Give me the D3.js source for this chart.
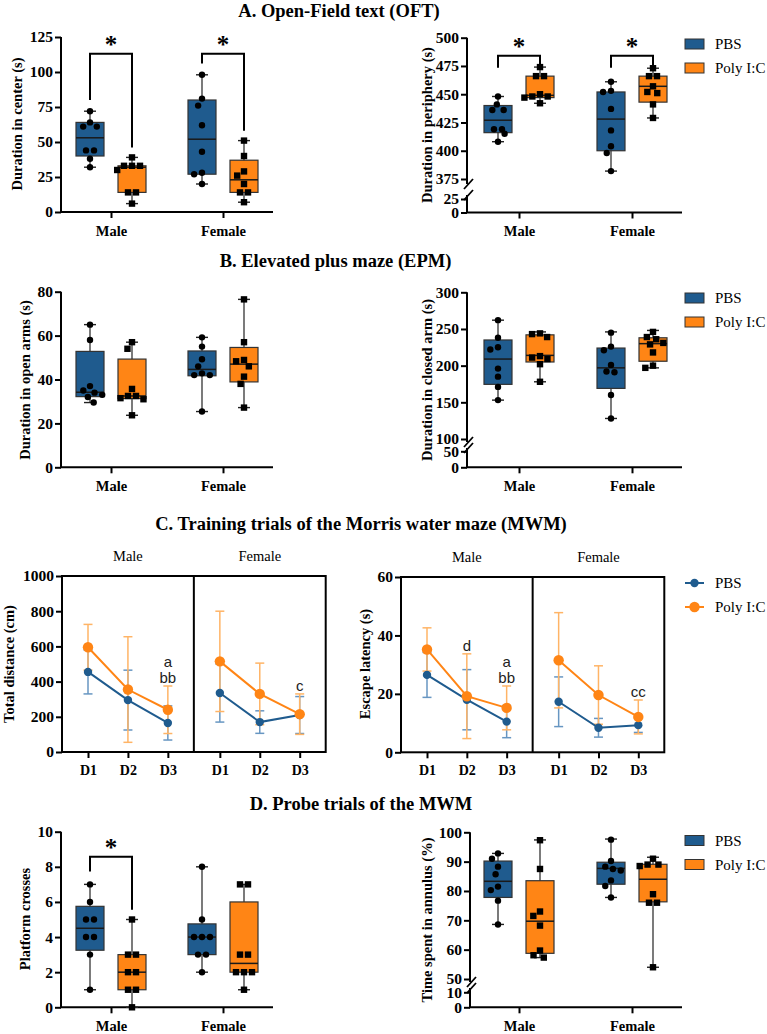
<!DOCTYPE html>
<html lang="en">
<head>
<meta charset="UTF-8">
<title>Behavioural tests: PBS vs Poly I:C</title>
<script src="https://d3js.org/d3.v7.min.js"></script>
<style>
  body { margin: 0; background: #fff; }
  svg { display: block; font-family: "Liberation Serif", "Times New Roman", serif; }
</style>
</head>
<body>
<svg id="fig" width="767" height="1034"></svg>
<script>
const sexes = ["Male", "Female"];
const groups = ["PBS", "Poly I:C"];
const days = ["D1", "D2", "D3"];

// box stats [min, q1, median, q3, max], order: Male-PBS, Male-Poly, Female-PBS, Female-Poly
const centerBox = [[32, 40, 53, 64, 72], [6, 14, 32, 33, 39], [20, 27, 52, 80, 98], [7, 14, 23, 37, 51]];
const centerPts = [[72, 64, 61, 61, 44, 44, 38, 32], [39, 33, 33, 33, 30, 14, 14, 6],
                   [98, 81, 76, 62, 43, 28, 27, 20], [51, 40, 29, 26, 20, 14, 14, 7]];
const centerSig = [{sex: "Male", top: 113, pbs: 80, poly: 46}, {sex: "Female", top: 113, pbs: 106, poly: 58}];

const periBox = [[408, 416, 427, 440, 448], [442, 447, 449, 466, 474], [382, 400, 428, 452, 461], [429, 443, 457, 466, 473]];
const periPts = [[448, 441, 436, 436, 419, 419, 415, 408], [474, 466, 466, 450, 448, 448, 447, 442],
                 [461, 453, 452, 437, 418, 404, 398, 382], [473, 466, 466, 457, 452, 451, 441, 429]];
const periSig = [{sex: "Male", top: 484, pbs: 473.5, poly: 474.5}, {sex: "Female", top: 484, pbs: 473.5, poly: 474.5}];

const openBox = [[29.5, 32.2, 34.2, 52.8, 65], [23.7, 31.3, 32.5, 49.3, 57], [25.4, 41.7, 44.6, 53, 59.2], [27.2, 38.9, 47, 54.6, 76.5]];
const openPts = [[65, 58, 37, 35, 34, 33, 32, 29.5], [57, 54, 35.7, 32.5, 32.5, 31.5, 31, 23.7],
                 [59.2, 55, 49.2, 46, 42.8, 42, 42, 25.4], [76.5, 57, 48.9, 48.3, 46, 41.3, 38, 27.2]];

const closedBox = [[153, 174.5, 209, 235, 262], [178, 205, 214, 242, 246], [128, 169, 197, 224, 246], [197, 206, 230, 238, 248]];
const closedPts = [[262, 238, 225, 222, 196, 185, 171, 153], [244, 243, 239, 213, 211, 209, 202, 178],
                   [245, 226, 221, 201, 192, 191, 160, 128], [246, 239, 236, 231, 229, 218, 200, 197]];

// MWM training: mean and SD per day, same order of series
const distMean = [[455, 295, 165], [595, 355, 240], [335, 170, 210], [515, 330, 215]];
const distSd = [[125, 170, 97], [130, 300, 135], [165, 64, 105], [285, 175, 115]];
const distNotes = [{sex: "Male", day: "D3", lines: ["a", "bb"]}, {sex: "Female", day: "D3", lines: ["c"]}];

const latMean = [[26.5, 18, 10.5], [35.2, 19.2, 15.2], [17.3, 8.4, 9.3], [31.5, 19.6, 12.1]];
const latSd = [[7.7, 10.3, 5.5], [7.4, 14.5, 7.5], [8.5, 3.2, 2.5], [16.3, 10, 5.8]];
const latNotes = [{sex: "Male", day: "D2", lines: ["d"]}, {sex: "Male", day: "D3", lines: ["a", "bb"]},
                  {sex: "Female", day: "D3", lines: ["cc"]}];

const crossBox = [[1, 3.25, 4.5, 5.75, 7], [0, 1, 2, 3, 5], [2, 3, 4, 4.75, 8], [1, 2, 2.5, 6, 7]];
const crossPts = [[7, 6, 5, 5, 4, 4, 3, 1], [5, 3, 3, 2, 2, 1, 1, 0], [8, 5, 4, 4, 4, 3, 3, 2], [7, 7, 3, 3, 2, 2, 2, 1]];
const crossSig = [{sex: "Male", top: 8.58, pbs: 7.73, poly: 5.55}];

const annulusBox = [[68.6, 77.8, 83.3, 90.2, 92.8], [57.3, 58.75, 69.7, 83.5, 97.4], [77.8, 82.3, 87.7, 89.8, 97.7], [54, 76.3, 84, 89.1, 91.5]];
const annulusPts = [[92.8, 91, 88.3, 85.7, 81.5, 80.3, 76.7, 68.6], [97.3, 87.5, 73, 71.5, 68.2, 59.7, 58.1, 57.3],
                    [97.5, 90.2, 88.3, 87.5, 87, 83.6, 81.7, 77.8], [91, 89, 89, 88.5, 78.9, 76, 76, 54]];

const colors = {"PBS": "#1f5b8e", "Poly I:C": "#ff8515"};
const lightColors = {"PBS": "#6796c2", "Poly I:C": "#ffb466"};
const serif = "'Liberation Serif', 'Times New Roman', serif";
const sans = "'Liberation Sans', Arial, sans-serif";
const combos = sexes.flatMap(s => groups.map(g => ({sex: s, group: g})));

const svg = d3.select("#fig");

function title(text, x, y) {
    svg.append("text").attr("x", x).attr("y", y).attr("text-anchor", "middle")
        .style("font-family", serif).attr("font-size", 18.5).attr("font-weight", "bold").text(text);
}

function yLabel(text, x, y) {
    svg.append("text").attr("transform", `translate(${x},${y}) rotate(-90)`)
        .attr("text-anchor", "middle").attr("dominant-baseline", "central")
        .style("font-family", serif).attr("font-size", 14.5).attr("font-weight", "bold").text(text);
}

function styleAxis(g, size) {
    g.style("font-family", serif).attr("font-size", size).attr("font-weight", "bold");
    g.select(".domain").remove();
    g.selectAll(".tick line").attr("stroke", "#000").attr("stroke-width", 2);
    g.selectAll(".tick text").attr("fill", "#000").style("font-family", serif);
}

function vline(x, y1, y2) {
    svg.append("line").attr("x1", x).attr("x2", x).attr("y1", y1).attr("y2", y2)
        .attr("stroke", "#000").attr("stroke-width", 2);
}

function slash(x, y) {
    svg.append("line").attr("x1", x - 3).attr("x2", x + 6).attr("y1", y + 5).attr("y2", y - 5)
        .attr("stroke", "#000").attr("stroke-width", 1.8);
}

// simple beeswarm: put each point as close to the centre as it can go without overlap,
// then centre runs of tied values
function swarm(vals, y, gap) {
    const placed = [];
    vals.map(v => ({v, y: y(v)})).sort((a, b) => a.y - b.y).forEach(d => {
        const near = placed.filter(p => Math.abs(p.y - d.y) < gap);
        const cands = [0];
        near.forEach(p => {
            const w = Math.sqrt(gap * gap - (p.y - d.y) ** 2);
            cands.push(p.dx - w, p.dx + w);
        });
        const ok = cands.filter(c => near.every(p => Math.hypot(c - p.dx, d.y - p.y) >= gap - 0.01));
        ok.sort((a, b) => Math.abs(a) - Math.abs(b) || a - b);
        d.dx = ok[0];
        placed.push(d);
    });
    d3.groups(placed, d => d.v).forEach(([, ties]) => {
        if (ties.length < 2) return;
        const m = d3.mean(ties, d => d.dx);
        ties.forEach(d => { d.dx -= m; });
    });
    return placed;
}

function boxLegend(y0) {
    groups.forEach((g, k) => {
        const cy = y0 + k * 24;
        svg.append("rect").attr("x", 685).attr("y", cy - 5).attr("width", 19).attr("height", 10)
            .attr("fill", colors[g]).attr("stroke", "#333").attr("stroke-width", 1);
        svg.append("text").attr("x", 715).attr("y", cy).attr("dominant-baseline", "central")
            .style("font-family", serif).attr("font-size", 15).text(g);
    });
}

function boxPanel(o) {
    const x = d3.scalePoint().domain(sexes).range(o.cats);
    const dx = d3.scalePoint().domain(groups).range([-21, 21]);
    const y = o.segs[o.segs.length - 1].scale;

    o.segs.forEach(s => {
        const g = svg.append("g").attr("transform", `translate(${o.x0},0)`)
            .call(d3.axisLeft(s.scale).tickValues(s.ticks).tickFormat(d3.format("d")).tickSize(6).tickPadding(2));
        styleAxis(g, 15.5);
    });
    o.axisLines.forEach(l => vline(o.x0, l[0], l[1]));
    (o.breaks || []).forEach(b => slash(o.x0, b));

    svg.append("line").attr("x1", o.x0 - 1).attr("x2", o.x1).attr("y1", o.bottom).attr("y2", o.bottom)
        .attr("stroke", "#000").attr("stroke-width", 2);
    const gx = svg.append("g").attr("transform", `translate(0,${o.bottom})`)
        .call(d3.axisBottom(x).tickSize(6).tickPadding(7.5));
    styleAxis(gx, 14.5);

    combos.forEach((c, i) => {
        const cx = x(c.sex) + dx(c.group);
        const [mn, q1, md, q3, mx] = o.box[i];
        const g = svg.append("g");
        g.append("line").attr("x1", cx).attr("x2", cx).attr("y1", y(mx)).attr("y2", y(mn))
            .attr("stroke", "#222").attr("stroke-width", 1.2);
        [mn, mx].forEach(v => g.append("line").attr("x1", cx - 6).attr("x2", cx + 6)
            .attr("y1", y(v)).attr("y2", y(v)).attr("stroke", "#222").attr("stroke-width", 1.4));
        g.append("rect").attr("x", cx - 14).attr("width", 28).attr("y", y(q3)).attr("height", y(q1) - y(q3))
            .attr("fill", colors[c.group]).attr("stroke", "#333").attr("stroke-width", 1.2);
        g.append("line").attr("x1", cx - 14).attr("x2", cx + 14).attr("y1", y(md)).attr("y2", y(md))
            .attr("stroke", "#1a1a1a").attr("stroke-width", 1.5);
        swarm(o.pts[i], y, 8).forEach(p => {
            if (c.group === "PBS") {
                g.append("circle").attr("cx", cx + p.dx).attr("cy", p.y).attr("r", 3.2).attr("fill", "#000");
            } else {
                g.append("rect").attr("x", cx + p.dx - 3.2).attr("y", p.y - 3.2)
                    .attr("width", 6.4).attr("height", 6.4).attr("fill", "#000");
            }
        });
    });

    (o.sig || []).forEach(s => {
        const xa = x(s.sex) + dx("PBS"), xb = x(s.sex) + dx("Poly I:C");
        svg.append("path").attr("d", `M${xa},${y(s.pbs)}V${y(s.top)}H${xb}V${y(s.poly)}`)
            .attr("fill", "none").attr("stroke", "#000").attr("stroke-width", 2);
        svg.append("text").attr("x", (xa + xb) / 2).attr("y", y(s.top) - 1).attr("text-anchor", "middle")
            .style("font-family", serif).attr("font-size", 25).attr("font-weight", "bold").text("*");
    });

    yLabel(o.label, o.labelX, o.labelY);
    if (o.legendY) boxLegend(o.legendY);
}

function linePanel(o) {
    const fx = d3.scaleBand().domain(sexes).range([o.x0, o.x1]);
    const dd = d3.scalePoint().domain(days).range([26, fx.bandwidth() - 26]);
    const y = d3.scaleLinear().domain(o.domain).range([o.bottom, o.top]);

    const gy = svg.append("g").attr("transform", `translate(${o.x0},0)`)
        .call(d3.axisLeft(y).tickValues(o.ticks).tickFormat(d3.format("d")).tickSize(6).tickPadding(2));
    styleAxis(gy, 15.5);

    sexes.forEach(sex => {
        const gx = svg.append("g").attr("transform", `translate(${fx(sex)},${o.bottom})`)
            .call(d3.axisBottom(dd).tickSize(6).tickPadding(7));
        styleAxis(gx, 14);
        svg.append("text").attr("x", fx(sex) + fx.bandwidth() / 2).attr("y", o.top - 15)
            .attr("text-anchor", "middle").style("font-family", serif).attr("font-size", 14.5).text(sex);
    });

    const px = (sex, day) => fx(sex) + dd(day);

    // error bars first
    combos.forEach((c, i) => {
        days.forEach((day, j) => {
            const m = o.mean[i][j], sd = o.sd[i][j];
            const cx = px(c.sex, day);
            const g = svg.append("g").attr("stroke", lightColors[c.group]).attr("stroke-width", 1.5);
            g.append("line").attr("x1", cx).attr("x2", cx).attr("y1", y(m - sd)).attr("y2", y(m + sd));
            [m - sd, m + sd].forEach(v => g.append("line").attr("x1", cx - 4.5).attr("x2", cx + 4.5)
                .attr("y1", y(v)).attr("y2", y(v)));
        });
    });

    const line = d3.line().x(d => d.x).y(d => y(d.v));
    combos.forEach((c, i) => {
        const pts = days.map((day, j) => ({x: px(c.sex, day), v: o.mean[i][j]}));
        svg.append("path").attr("d", line(pts)).attr("fill", "none")
            .attr("stroke", colors[c.group]).attr("stroke-width", 2);
        svg.selectAll(null).data(pts).enter().append("circle")
            .attr("cx", d => d.x).attr("cy", d => y(d.v))
            .attr("r", c.group === "PBS" ? 4.2 : 5.2).attr("fill", colors[c.group]);
    });

    // frame drawn over the data
    svg.append("rect").attr("x", o.x0).attr("y", o.top).attr("width", o.x1 - o.x0).attr("height", o.bottom - o.top)
        .attr("fill", "none").attr("stroke", "#000").attr("stroke-width", 2);
    vline(fx("Female"), o.top, o.bottom);

    o.notes.forEach(n => {
        const si = sexes.indexOf(n.sex), j = days.indexOf(n.day);
        const capY = Math.min(...groups.map((g, k) => y(o.mean[si * 2 + k][j] + o.sd[si * 2 + k][j])));
        n.lines.forEach((t, k) => {
            svg.append("text").attr("x", px(n.sex, n.day)).attr("y", capY - 3 - (n.lines.length - 1 - k) * 16)
                .attr("text-anchor", "middle").style("font-family", sans).attr("font-size", 15)
                .attr("fill", "#222").text(t);
        });
    });

    yLabel(o.label, o.labelX, o.labelY);

    if (o.legendY) {
        groups.forEach((g, k) => {
            const cy = o.legendY + k * 24;
            svg.append("line").attr("x1", 685).attr("x2", 704).attr("y1", cy).attr("y2", cy)
                .attr("stroke", colors[g]).attr("stroke-width", 2);
            svg.append("circle").attr("cx", 694.5).attr("cy", cy).attr("r", g === "PBS" ? 4.2 : 5.2).attr("fill", colors[g]);
            svg.append("text").attr("x", 715).attr("y", cy).attr("dominant-baseline", "central")
                .style("font-family", serif).attr("font-size", 15).text(g);
        });
    }
}

// ---- A. Open field
title("A. Open-Field text (OFT)", 339, 17);
boxPanel({
    x0: 61, x1: 273, cats: [111, 223], bottom: 212,
    segs: [{scale: d3.scaleLinear().domain([0, 125]).range([212, 37]), ticks: [0, 25, 50, 75, 100, 125]}],
    axisLines: [[37, 212]],
    box: centerBox, pts: centerPts, sig: centerSig,
    label: "Duration in center (s)", labelX: 17, labelY: 124
});
boxPanel({
    x0: 467, x1: 682, cats: [519, 632], bottom: 212.5,
    segs: [{scale: d3.scaleLinear().domain([0, 25]).range([212.5, 199]), ticks: [0, 25]},
           {scale: d3.scaleLinear().domain([375, 500]).range([179, 37.7]), ticks: [375, 400, 425, 450, 475, 500]}],
    axisLines: [[37.7, 184], [195, 212.5]], breaks: [184, 195],
    box: periBox, pts: periPts, sig: periSig,
    label: "Duration in periphery (s)", labelX: 426.5, labelY: 125, legendY: 44
});

// ---- B. Elevated plus maze
title("B. Elevated plus maze (EPM)", 335.5, 267);
boxPanel({
    x0: 61, x1: 273, cats: [111, 223], bottom: 467.3,
    segs: [{scale: d3.scaleLinear().domain([0, 80]).range([467.3, 291.7]), ticks: [0, 20, 40, 60, 80]}],
    axisLines: [[291.7, 467.3]],
    box: openBox, pts: openPts,
    label: "Duration in open arms (s)", labelX: 25, labelY: 380
});
boxPanel({
    x0: 467, x1: 682, cats: [519, 632], bottom: 467.3,
    segs: [{scale: d3.scaleLinear().domain([0, 50]).range([467.3, 451.3]), ticks: [0, 50]},
           {scale: d3.scaleLinear().domain([100, 300]).range([439, 292.3]), ticks: [100, 150, 200, 250, 300]}],
    axisLines: [[292.3, 442], [448, 467.3]], breaks: [442, 448],
    box: closedBox, pts: closedPts,
    label: "Duration in closed arm (s)", labelX: 427, labelY: 380, legendY: 298
});

// ---- C. MWM training
title("C. Training trials of the Morris water maze (MWM)", 361, 530);
linePanel({
    x0: 62, x1: 325.7, top: 576, bottom: 752, domain: [0, 1000], ticks: [0, 200, 400, 600, 800, 1000],
    mean: distMean, sd: distSd, notes: distNotes,
    label: "Total distance (cm)", labelX: 9, labelY: 664
});
linePanel({
    x0: 401, x1: 664.3, top: 577, bottom: 752.3, domain: [0, 60], ticks: [0, 20, 40, 60],
    mean: latMean, sd: latSd, notes: latNotes,
    label: "Escape latency (s)", labelX: 365, labelY: 664, legendY: 583
});

// ---- D. MWM probe
title("D. Probe trials of the MWM", 361, 810);
boxPanel({
    x0: 61, x1: 273, cats: [111, 223], bottom: 1007.3,
    segs: [{scale: d3.scaleLinear().domain([0, 10]).range([1007.3, 831.7]), ticks: [0, 2, 4, 6, 8, 10]}],
    axisLines: [[831.7, 1007.3]],
    box: crossBox, pts: crossPts, sig: crossSig,
    label: "Platform crosses", labelX: 25, labelY: 919
});
boxPanel({
    x0: 470, x1: 682, cats: [519, 632], bottom: 1007.3,
    segs: [{scale: d3.scaleLinear().domain([0, 10]).range([1007.3, 992.3]), ticks: [0, 10]},
           {scale: d3.scaleLinear().domain([50, 100]).range([979, 832.3]), ticks: [50, 60, 70, 80, 90, 100]}],
    axisLines: [[832.3, 982], [988, 1007.3]], breaks: [982, 988],
    box: annulusBox, pts: annulusPts,
    label: "Time spent in annulus (%)", labelX: 427, labelY: 920, legendY: 840.5
});
</script>
</body>
</html>
